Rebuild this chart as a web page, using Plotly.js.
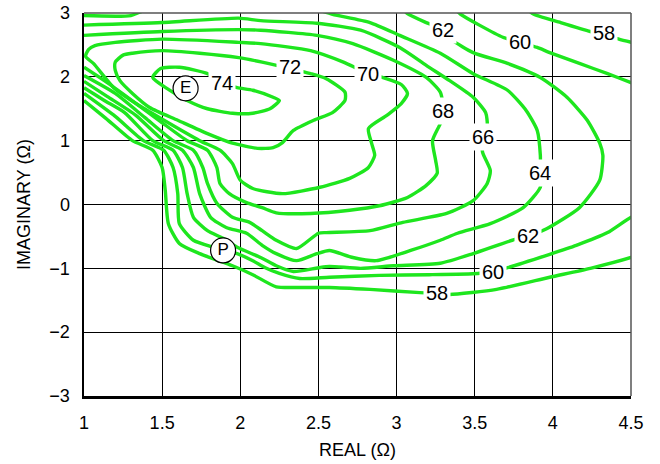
<!DOCTYPE html>
<html><head><meta charset="utf-8">
<script src="https://cdn.plot.ly/plotly-3.0.1.min.js"></script>
<style>html,body{margin:0;padding:0;background:#fff}</style>
</head><body><div id="chart" style="width:660px;height:464px"></div>
<script>
// Contour lines (REAL Ω on x, IMAGINARY Ω on y)
const c74x = [1.44,1.49,1.61,1.79,1.88,1.98,2.08,2.21,2.25,2.19,2.08,1.95,1.79,1.66,1.53,1.44];
const c74y = [1.99,2.13,2.15,2.05,1.91,1.83,1.79,1.68,1.63,1.50,1.43,1.43,1.50,1.63,1.82,1.99];

const c72x = [1.20,1.25,1.31,1.50,1.74,1.99,2.14,2.32,2.45,2.55,2.67,2.67,2.59,2.47,2.34,2.27,2.21,2.11,1.95,1.79,1.60,1.42,1.31,1.23,1.20,1.20];
const c72y = [2.23,2.34,2.37,2.41,2.37,2.30,2.23,2.13,2.05,1.97,1.76,1.63,1.44,1.32,1.16,0.97,0.89,0.88,0.96,1.11,1.32,1.52,1.74,1.94,2.10,2.23];

const c70x = [1.01,1.03,1.07,1.20,1.50,1.99,2.13,2.45,2.66,2.82,2.91,3.03,3.07,3.03,2.94,2.82,2.84,2.86,2.82,2.70,2.51,2.27,2.08,2.00,1.95,1.87,1.74,1.49,1.34,1.19,1.06,1.01];
const c70y = [2.32,2.43,2.49,2.54,2.59,2.54,2.52,2.41,2.23,2.05,1.99,1.88,1.74,1.58,1.40,1.19,0.96,0.77,0.58,0.41,0.27,0.17,0.25,0.38,0.64,0.85,1.00,1.35,1.57,1.83,2.21,2.32];

const c68x = [1.00,1.50,1.99,2.13,2.49,2.72,2.98,3.19,3.28,3.30,3.28,3.23,3.25,3.26,3.19,3.07,2.89,2.70,2.45,2.23,2.14,2.04,1.93,1.87,1.85,1.79,1.66,1.49,1.29,1.13,1.00];
const c68y = [2.65,2.71,2.74,2.73,2.65,2.52,2.26,1.99,1.76,1.47,1.27,1.00,0.69,0.49,0.30,0.11,-0.02,-0.09,-0.14,-0.13,-0.05,0.03,0.17,0.33,0.58,0.85,1.00,1.30,1.66,1.94,2.15];

const c66x = [1.00,1.50,1.99,2.13,2.49,2.77,3.02,3.19,3.34,3.49,3.57,3.58,3.55,3.55,3.60,3.58,3.49,3.32,3.04,2.83,2.55,2.50,2.36,2.23,2.14,2.06,1.95,1.85,1.79,1.76,1.70,1.57,1.39,1.20,1.00];
const c66y = [2.81,2.85,2.92,2.88,2.84,2.73,2.46,2.18,1.94,1.68,1.44,1.24,1.05,0.82,0.53,0.33,0.06,-0.14,-0.28,-0.41,-0.44,-0.45,-0.69,-0.56,-0.41,-0.28,-0.20,0.02,0.33,0.58,0.85,1.00,1.36,1.74,2.02];

const c64x = [1.00,1.30,1.42,2.38,2.59,2.83,3.02,3.28,3.49,3.71,3.83,3.90,3.92,3.92,3.92,3.81,3.60,3.39,3.28,3.09,2.87,2.72,2.57,2.49,2.36,2.23,2.14,2.04,1.91,1.81,1.74,1.70,1.63,1.51,1.33,1.15,1.00];
const c64y = [2.96,2.96,3.07,3.12,2.98,2.85,2.65,2.37,2.05,1.79,1.47,1.16,0.77,0.50,0.27,-0.05,-0.30,-0.45,-0.56,-0.72,-0.88,-0.83,-0.72,-0.77,-0.88,-0.77,-0.64,-0.45,-0.36,-0.20,0.17,0.58,0.85,1.00,1.40,1.69,1.93];

const c62x = [3.02,3.07,3.19,3.30,3.36,3.49,3.71,3.92,4.09,4.22,4.30,4.32,4.30,4.17,3.96,3.84,3.74,3.49,3.28,2.98,2.77,2.57,2.50,2.34,2.23,2.13,1.98,1.89,1.79,1.70,1.66,1.63,1.57,1.44,1.26,1.13,1.00];
const c62y = [3.12,2.99,2.85,2.74,2.57,2.38,2.21,1.99,1.68,1.32,0.96,0.77,0.38,-0.05,-0.38,-0.50,-0.56,-0.77,-0.92,-0.96,-1.00,-0.97,-0.99,-1.05,-0.96,-0.83,-0.67,-0.53,-0.41,-0.20,0.17,0.58,0.85,1.00,1.44,1.63,1.83];

const c60x = [3.37,3.41,3.53,3.68,3.79,3.90,3.98,4.17,4.35,4.50,4.59,null,4.59,4.50,4.35,4.15,3.98,3.71,3.62,3.52,3.21,2.89,2.57,2.38,2.25,2.16,2.08,1.98,1.83,1.70,1.61,1.60,1.57,1.51,1.38,1.20,1.00];
const c60y = [3.07,2.98,2.81,2.62,2.54,2.46,2.38,2.21,2.05,1.91,1.83,null,-0.13,-0.20,-0.44,-0.64,-0.78,-0.99,-1.05,-1.08,-1.10,-1.11,-1.14,-1.16,-1.08,-0.99,-0.88,-0.77,-0.67,-0.56,-0.30,0.17,0.58,0.85,1.00,1.38,1.74];

const c58x = [3.82,3.87,4.05,4.24,4.33,4.41,4.50,4.59,null,4.59,4.50,4.24,3.98,3.64,3.34,3.26,3.15,2.83,2.57,2.38,2.23,2.08,1.95,1.74,1.61,1.54,1.52,1.50,1.44,1.31,1.14,1.00];
const c58y = [3.12,2.99,2.85,2.71,2.66,2.60,2.54,2.48,null,-0.75,-0.83,-1.00,-1.14,-1.33,-1.41,-1.39,-1.38,-1.33,-1.30,-1.30,-1.29,-1.10,-0.96,-0.77,-0.61,-0.30,0.22,0.58,0.85,1.00,1.35,1.63];

// Contour labels
const labelText = ['74','72','70','68','66','64','62','62','60','60','58','58'];
const labelX    = [1.88,2.32,2.82,3.30,3.55,3.92,3.30,3.84,3.79,3.62,4.33,3.26];
const labelY    = [1.91,2.15,2.05,1.47,1.05,0.50,2.74,-0.50,2.54,-1.05,2.68,-1.39];

// Marked points
const pointText = ['E','P'];
const pointX = [1.65,1.89];
const pointY = [1.82,-0.72];

// Axis ticks
const xTicks = [1,1.5,2,2.5,3,3.5,4,4.5];
const xTickText = ['1','1.5','2','2.5','3','3.5','4','4.5'];
const yTicks = [-3,-2,-1,0,1,2,3];
const yTickText = ['\u22123','\u22122','\u22121','0','1','2','3'];

const FONT = '"Liberation Sans Narrow", "Arial Narrow", "Liberation Sans", Arial, sans-serif';
const GREEN = '#1ee61e';

const lines = [[c74x,c74y],[c72x,c72y],[c70x,c70y],[c68x,c68y],[c66x,c66y],[c64x,c64y],[c62x,c62y],[c60x,c60y],[c58x,c58y]];
const traces = lines.map(([x,y]) => ({
  type:'scatter', mode:'lines', x:x, y:y, connectgaps:false,
  line:{color:GREEN, width:3.4, shape:'spline', smoothing:0.6}, hoverinfo:'skip', showlegend:false
}));
traces.push({
  type:'scatter', mode:'markers+text', x:pointX, y:pointY, text:pointText,
  textposition:'middle center', textfont:{family:FONT, size:17, color:'#000'},
  marker:{size:25, color:'#fff', line:{color:'#000', width:1.2}},
  hoverinfo:'skip', showlegend:false, cliponaxis:false
});

const annotations = labelText.map((t,i) => ({
  x:labelX[i], y:labelY[i], xref:'x', yref:'y', text:t, showarrow:false,
  font:{family:FONT, size:20, color:'#000'}, bgcolor:'#fff', borderpad:2
}));

const layout = {
  width:660, height:464,
  margin:{l:84, r:29, t:13, b:68},
  paper_bgcolor:'#fff', plot_bgcolor:'#fff',
  showlegend:false,
  xaxis:{
    range:[1,4.5], tickvals:xTicks, ticktext:xTickText,
    showgrid:true, gridcolor:'#000', gridwidth:1, zeroline:false,
    showline:true, linecolor:'#000', linewidth:2.5,
    ticks:'outside', ticklen:9, tickcolor:'rgba(0,0,0,0)',
    tickfont:{family:FONT, size:18, color:'#000'},
    title:{text:'REAL (\u03A9)', font:{family:FONT, size:18, color:'#000'}, standoff:12},
    fixedrange:true
  },
  yaxis:{
    range:[-3,3], tickvals:yTicks, ticktext:yTickText,
    showgrid:true, gridcolor:'#000', gridwidth:1, zeroline:false,
    showline:true, linecolor:'#000', linewidth:2.5,
    ticks:'outside', ticklen:8, tickcolor:'rgba(0,0,0,0)',
    tickfont:{family:FONT, size:18, color:'#000'},
    title:{text:'IMAGINARY (\u03A9)', font:{family:FONT, size:18, color:'#000'}, standoff:14},
    fixedrange:true
  },
  shapes:[
    {type:'line', xref:'paper', yref:'paper', x0:0, x1:1, y0:1, y1:1, line:{color:'#555', width:1.5}},
    {type:'line', xref:'paper', yref:'paper', x0:1, x1:1, y0:0, y1:1, line:{color:'#555', width:1.5}}
  ],
  annotations:annotations
};

Plotly.newPlot('chart', traces, layout, {staticPlot:true, displayModeBar:false});
</script>
</body></html>
